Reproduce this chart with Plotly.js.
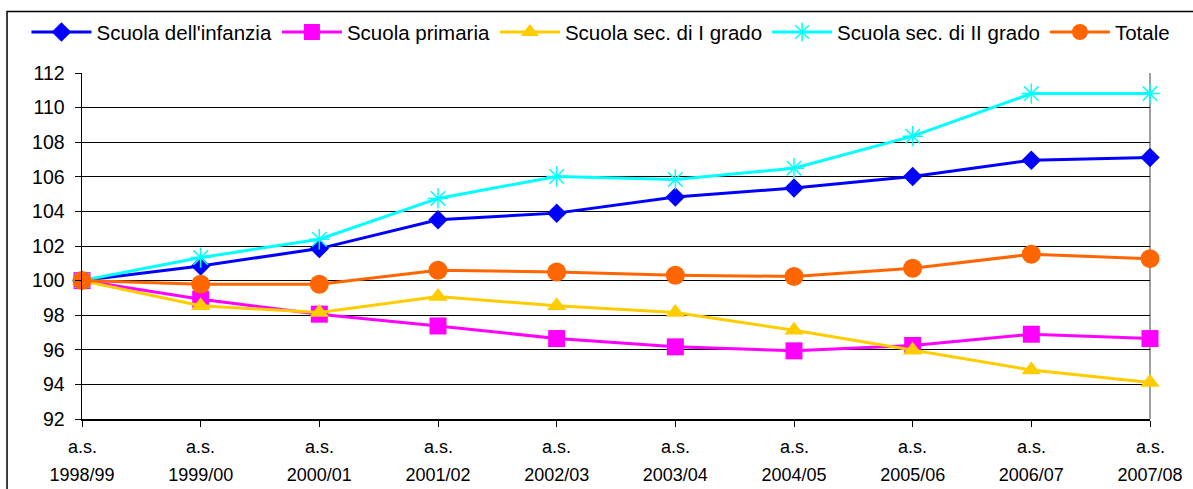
<!DOCTYPE html>
<html>
<head>
<meta charset="utf-8">
<script src="https://cdn.plot.ly/plotly-3.0.1.min.js"></script>
<style>
  html, body { margin: 0; padding: 0; background: #fff; }
  #chart { width: 1193px; height: 489px; }
</style>
</head>
<body>
<div id="chart"></div>
<script>
const years = ["1998/99", "1999/00", "2000/01", "2001/02", "2002/03", "2003/04", "2004/05", "2005/06", "2006/07", "2007/08"];
const prefix = "a.s.";

const infanzia  = [100, 100.85, 101.85, 103.52, 103.9, 104.83, 105.35, 106.02, 106.96, 107.12];
const primaria  = [100, 98.92, 98.06, 97.38, 96.65, 96.17, 95.94, 96.25, 96.9, 96.65];
const secPrimo  = [100, 98.55, 98.15, 99.08, 98.54, 98.15, 97.13, 95.98, 94.83, 94.11];
const secSecondo = [100, 101.33, 102.39, 104.75, 106.02, 105.85, 106.5, 108.35, 110.81, 110.81];
const totale    = [100, 99.79, 99.79, 100.6, 100.5, 100.31, 100.24, 100.71, 101.52, 101.27];

const seriesNames = ["Scuola dell'infanzia", "Scuola primaria", "Scuola sec. di I grado", "Scuola sec. di II grado", "Totale"];

function mk(name, y, color, symbol, size, lineW) {
  return {
    type: 'scatter', mode: 'lines+markers', name: name,
    x: years, y: y,
    line: { color: color, width: 3 },
    marker: { color: color, symbol: symbol, size: size, line: { width: lineW || 0, color: color } },
    cliponaxis: false
  };
}

const traces = [
  mk(seriesNames[0], infanzia, '#0000FF', 'diamond', 15),
  mk(seriesNames[1], primaria, '#FF00FF', 'square', 17),
  mk(seriesNames[2], secPrimo, '#FFCC00', 'triangle-up', 17),
  mk(seriesNames[3], secSecondo, '#00FFFF', 'asterisk-open', 17, 1.5),
  mk(seriesNames[4], totale, '#FF6600', 'circle', 19)
];

const annotations = years.map(y => ({
  x: y, xref: 'x', y: -0.0805, yref: 'paper',
  text: prefix, showarrow: false, xanchor: 'center', yanchor: 'middle',
  font: { size: 18, color: '#000' }
}));

const layout = {
  width: 1193, height: 489,
  margin: { l: 82, r: 43, t: 71, b: 70 },
  paper_bgcolor: '#fff', plot_bgcolor: '#fff',
  font: { family: 'Liberation Sans, Arial, sans-serif', size: 18, color: '#000' },
  showlegend: true,
  legend: {
    orientation: 'h', x: -0.052, xanchor: 'left', y: 1.118, yanchor: 'middle',
    font: { size: 20.5, color: '#000' }, bgcolor: 'rgba(0,0,0,0)', itemwidth: 60
  },
  xaxis: {
    type: 'category', range: [0, years.length - 1],
    showgrid: false, zeroline: false,
    showline: true, linecolor: '#000', linewidth: 1.5,
    ticks: 'outside', ticklen: 6, tickcolor: '#000', tickwidth: 1,
    tickfont: { size: 18, color: '#000' }, ticklabelstandoff: 33, fixedrange: true
  },
  yaxis: {
    range: [92, 112], dtick: 2, tick0: 92,
    showgrid: true, gridcolor: '#000', gridwidth: 1,
    zeroline: false,
    showline: true, linecolor: '#000', linewidth: 1.5,
    ticks: 'outside', ticklen: 6, tickcolor: '#000',
    tickfont: { size: 19.5, color: '#000' }, ticklabelstandoff: 6, fixedrange: true
  },
  annotations: annotations,
  shapes: [
    { type: 'line', xref: 'paper', yref: 'paper', x0: 1, x1: 1, y0: 0, y1: 1, line: { color: '#808080', width: 1.5 }, layer: 'below' },
    { type: 'rect', xref: 'paper', yref: 'paper', x0: -0.0702, x1: 1.1, y0: -0.3, y1: 1.178, line: { color: '#000', width: 1.5 }, fillcolor: 'rgba(0,0,0,0)', layer: 'below' }
  ]
};

Plotly.newPlot('chart', traces, layout, { displayModeBar: false, staticPlot: true });
</script>
</body>
</html>
